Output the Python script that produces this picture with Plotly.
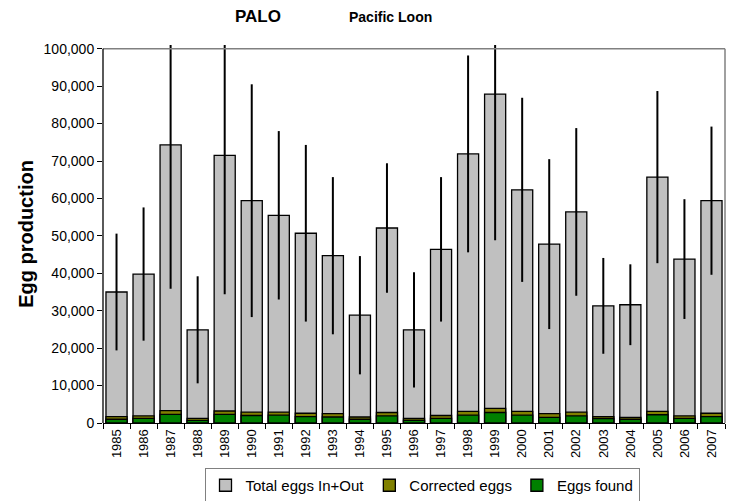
import plotly.graph_objects as go

years = ["1985", "1986", "1987", "1988", "1989", "1990", "1991", "1992", "1993", "1994",
         "1995", "1996", "1997", "1998", "1999", "2000", "2001", "2002", "2003", "2004",
         "2005", "2006", "2007"]
total_eggs = [35000, 39800, 74300, 24900, 71500, 59400, 55500, 50700, 44700, 28800,
              52100, 24900, 46400, 71900, 87900, 62300, 47800, 56400, 31300, 31600,
              65700, 43800, 59400]
total_err = [15600, 17800, 38400, 14300, 37100, 31100, 22500, 23600, 21000, 15800,
             17300, 15400, 19300, 26300, 39100, 24600, 22700, 22400, 12800, 10800,
             23000, 16000, 19800]
corrected_eggs = [1700, 1900, 3300, 1250, 3200, 2900, 2900, 2600, 2500, 1600,
                  2800, 1200, 2000, 3100, 3900, 3100, 2500, 2900, 1700, 1500,
                  3100, 1900, 2600]
eggs_found = [1000, 1250, 2300, 700, 2300, 2000, 2100, 1700, 1600, 1000,
              1900, 700, 1250, 2100, 2800, 2100, 1500, 1900, 1200, 1000,
              2200, 1250, 1700]
y_ticks = [0, 10000, 20000, 30000, 40000, 50000, 60000, 70000, 80000, 90000, 100000]

FONT = "Liberation Sans, Arial, sans-serif"
line = dict(color="black", width=1.3)

W, H = 734, 501
L, R, T, B = 103, 9, 45, 78
PH = H - T - B  # plot height in px


def px_x(p):
    return (p - L) / (W - L - R)


def px_y(p):
    return (H - B - p) / PH


fig = go.Figure()
fig.add_trace(go.Bar(x=years, y=total_eggs, name="Total eggs In+Out",
                     marker=dict(color="#C0C0C0", line=line),
                     error_y=dict(type="data", array=total_err, color="black",
                                  thickness=2, width=0)))
fig.add_trace(go.Bar(x=years, y=corrected_eggs, name="Corrected eggs",
                     marker=dict(color="#808000", line=line)))
fig.add_trace(go.Bar(x=years, y=eggs_found, name="Eggs found",
                     marker=dict(color="#008000", line=line)))

fig.update_layout(
    width=W, height=H,
    margin=dict(l=L, r=R, t=T, b=B),
    barmode="overlay", bargap=0.22,
    plot_bgcolor="white", paper_bgcolor="white",
    font=dict(family=FONT, color="black", size=13),
    showlegend=True,
    legend=dict(orientation="h", x=px_x(422), xanchor="center",
                yref="container", y=(H - 468) / H, yanchor="top",
                bordercolor="#808080", borderwidth=1, font=dict(size=15),
                traceorder="normal", itemwidth=30),
    xaxis=dict(type="category", tickangle=-90, ticks="outside", tickson="boundaries",
               ticklen=5, tickcolor="black", showline=True, linecolor="black",
               linewidth=1, tickfont=dict(size=13), showgrid=False, automargin=False),
    yaxis=dict(range=[0, 101000], tickvals=y_ticks, tickformat=",", ticks="outside",
               ticklen=5, tickcolor="black", showline=False, showgrid=False,
               zeroline=False, tickfont=dict(size=14), automargin=False,
               title=dict(text="<b>Egg production</b>", font=dict(size=20), standoff=4)),
    shapes=[
        dict(type="line", xref="paper", yref="y", x0=0, x1=1, y0=100000, y1=100000,
             line=dict(color="#808080", width=1.5)),
        dict(type="line", xref="paper", yref="y", x0=1, x1=1, y0=0, y1=100000,
             line=dict(color="#808080", width=1.5)),
        dict(type="line", xref="paper", yref="y", x0=0, x1=0, y0=0, y1=100000,
             line=dict(color="black", width=1.3)),
    ],
    annotations=[
        dict(text="<b>PALO</b>", xref="paper", yref="paper", x=px_x(258),
             y=px_y(17), xanchor="center", yanchor="middle", showarrow=False,
             font=dict(size=17)),
        dict(text="<b>Pacific Loon</b>", xref="paper", yref="paper", x=px_x(390),
             y=px_y(17), xanchor="center", yanchor="middle", showarrow=False,
             font=dict(size=14)),
    ],
)

fig.write_html("out.html", config={"displayModeBar": False},
               post_script="document.body.style.margin='0px';document.body.style.overflow='hidden';")
